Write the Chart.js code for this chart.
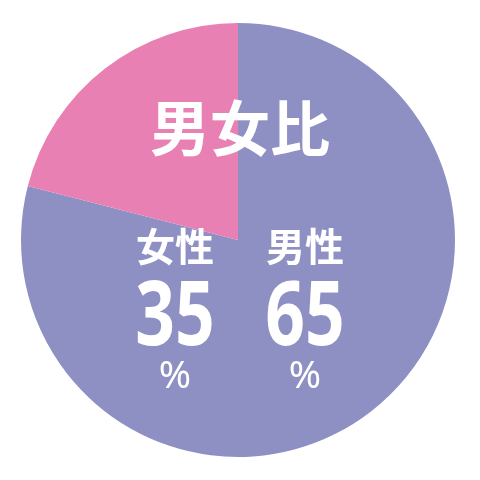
<!DOCTYPE html>
<html>
<head>
<meta charset="utf-8">
<script src="https://cdn.jsdelivr.net/npm/chart.js@4"></script>
<style>
  html, body { margin: 0; padding: 0; background: #ffffff; }
  #wrap { width: 480px; height: 480px; }
</style>
</head>
<body>
<div id="wrap"><canvas id="c"></canvas></div>
<script>
// Data
const categories = ['男性', '女性'];
const sliceShares = [79, 21];          // drawn slice sizes
const percentLabels = ['65', '35'];    // printed percentages
const sliceColors = ['#8e90c3', '#e980b4'];
const titleText = '男女比';

const textPlugin = {
  id: 'texts',
  afterDraw(chart) {
    const ctx = chart.ctx;
    const meta = chart.getDatasetMeta(0);
    const arc = meta.data[0];
    const cx = arc.x + 2, cy = arc.y;
    ctx.save();
    ctx.fillStyle = '#ffffff';
    ctx.textAlign = 'center';
    ctx.textBaseline = 'middle';
    // Title
    ctx.font = 'bold 60px "Noto Sans CJK JP"';
    ctx.fillText(titleText, cx, cy - 112);
    // Per-category labels: female on left, male on right
    const xs = [cx + 65, cx - 65];
    for (let i = 0; i < categories.length; i++) {
      const x = xs[i];
      ctx.font = 'bold 39px "Noto Sans CJK JP"';
      ctx.fillText(categories[i], x, cy + 6);
      ctx.save();
      ctx.translate(x, cy + 80);
      ctx.scale(0.78, 1);
      ctx.font = 'bold 89px "Noto Sans"';
      ctx.fillText(percentLabels[i], 0, 0);
      ctx.restore();
      ctx.font = '39px "Noto Sans"';
      ctx.fillText('%', x, cy + 137);
    }
    ctx.restore();
  }
};

new Chart(document.getElementById('c'), {
  type: 'pie',
  data: {
    labels: categories,
    datasets: [{
      data: sliceShares,
      backgroundColor: sliceColors,
      borderWidth: 0
    }]
  },
  options: {
    responsive: true,
    maintainAspectRatio: false,
    animation: false,
    layout: { padding: { left: 21, right: 25, top: 23, bottom: 23 } },
    plugins: {
      legend: { display: false },
      tooltip: { enabled: false }
    }
  },
  plugins: [textPlugin]
});
</script>
</body>
</html>
